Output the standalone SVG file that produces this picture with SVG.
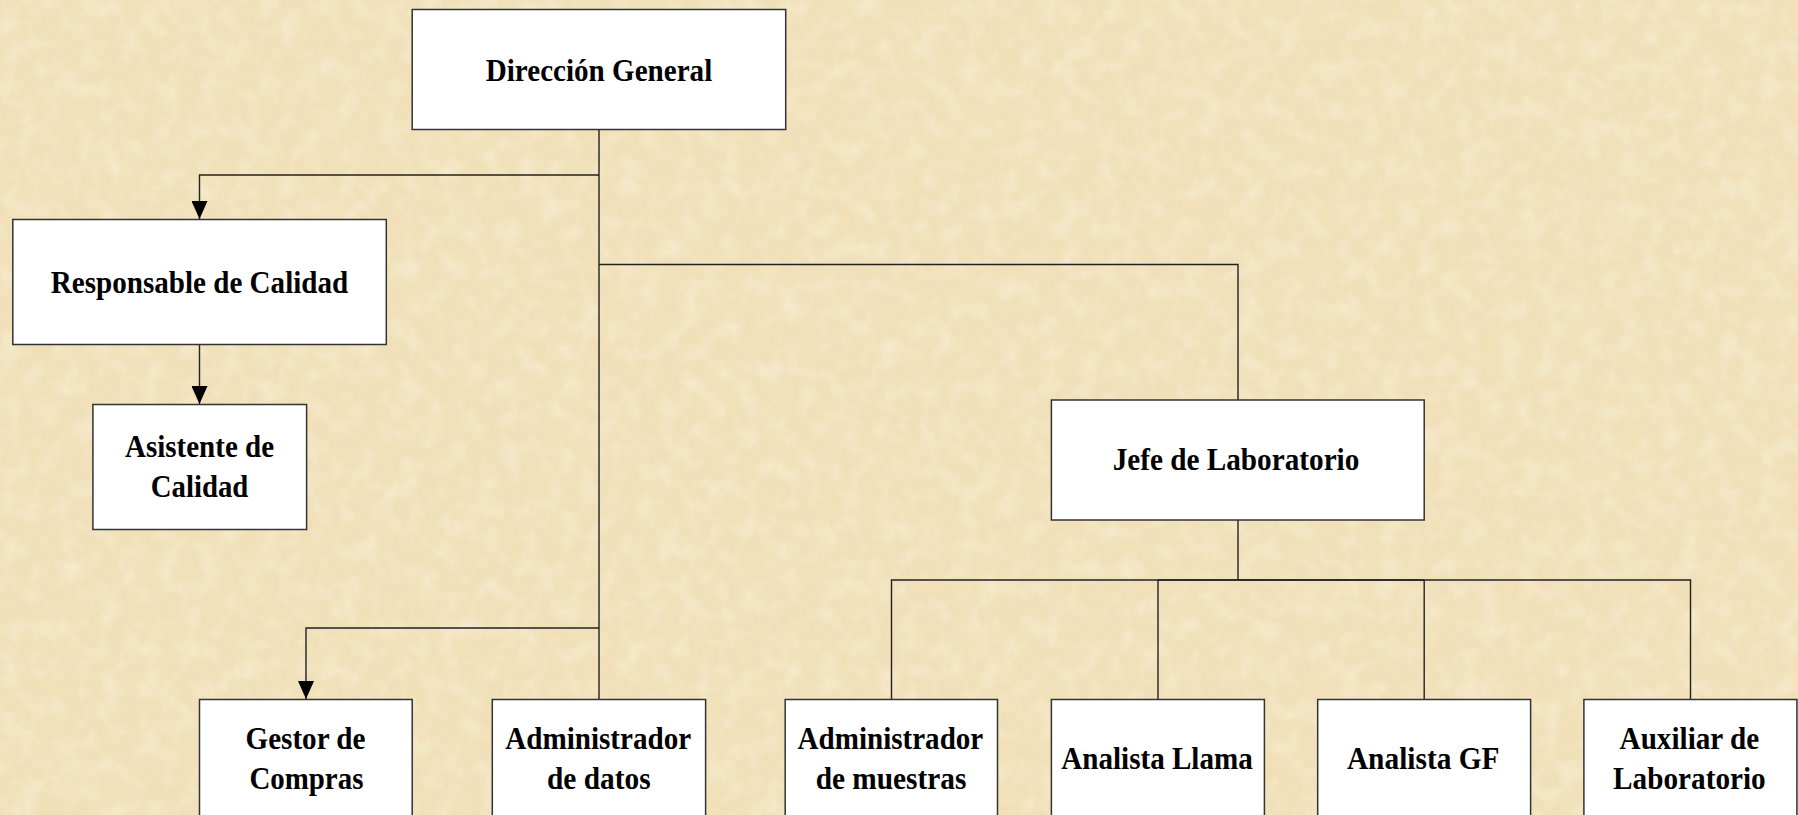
<svg xmlns="http://www.w3.org/2000/svg" width="1798" height="815" viewBox="0 0 1798 815">
<defs>
<style>
.box{fill:#fff;stroke:#333;stroke-width:1.5}
.t{font-family:"Liberation Serif","Times New Roman",serif;font-weight:bold;font-size:32px;fill:#000;text-anchor:middle}
.c{fill:none;stroke:#222;stroke-width:1.4}
</style>
<marker id="arr" markerWidth="18" markerHeight="16" refX="18" refY="8" orient="auto" markerUnits="userSpaceOnUse" viewBox="0 0 18 16" preserveAspectRatio="none">
<path d="M0,0 L18,8 L0,16 Z" fill="#000"/>
</marker>
<filter id="tex" x="0" y="0" width="100%" height="100%">
<feTurbulence type="fractalNoise" baseFrequency="0.02 0.03" numOctaves="4" seed="7" result="n"/>
<feColorMatrix in="n" type="matrix" values="0 0 0 0 0.86  0 0 0 0 0.72  0 0 0 0 0.45  0 0 0 2.0 -0.8" result="c"/>
<feComposite in="c" in2="SourceGraphic" operator="in"/>
</filter>
<filter id="tex2" x="0" y="0" width="100%" height="100%">
<feTurbulence type="fractalNoise" baseFrequency="0.05" numOctaves="3" seed="3" result="n"/>
<feColorMatrix in="n" type="matrix" values="0 0 0 0 1  0 0 0 0 0.98  0 0 0 0 0.9  0 0 0 2.0 -0.85" result="c"/>
<feComposite in="c" in2="SourceGraphic" operator="in"/>
</filter>
</defs>
<rect x="0" y="0" width="1798" height="815" fill="#F1E1BA"/>
<rect x="0" y="0" width="1798" height="815" fill="#fff" filter="url(#tex)" opacity="0.5"/>
<rect x="0" y="0" width="1798" height="815" fill="#fff" filter="url(#tex2)" opacity="0.35"/>
<g id="connectors">
<path class="c" d="M599,130 V699"/>
<path class="c" d="M599,175 H199.5 V219" marker-end="url(#arr)"/>
<path class="c" d="M199.5,344.3 V404" marker-end="url(#arr)"/>
<path class="c" d="M599,628 H306 V699" marker-end="url(#arr)"/>
<path class="c" d="M599,264.5 H1238 V400"/>
<path class="c" d="M1238,520 V580"/>
<path class="c" d="M891.5,700 V580 H1690.5 V700"/>
<path class="c" d="M1158,580 V700"/>
<path class="c" d="M1424.2,580 V700"/>
<path class="c" d="M1158,580 H1424.2" stroke-width="2.2"/>
</g>
<g id="direccion-general">
<rect class="box" x="412.2" y="9.5" width="373.5" height="120"/>
<text class="t" x="599" y="80.5" textLength="226.5" lengthAdjust="spacingAndGlyphs">Dirección General</text>
</g>
<g id="responsable-calidad">
<rect class="box" x="12.8" y="219.5" width="373.5" height="125"/>
<text class="t" x="199.5" y="292.5" textLength="297.5" lengthAdjust="spacingAndGlyphs">Responsable de Calidad</text>
</g>
<g id="asistente-calidad">
<rect class="box" x="92.9" y="404.5" width="213.7" height="125"/>
<text class="t" x="199.5" y="456.7" textLength="149" lengthAdjust="spacingAndGlyphs">Asistente de</text>
<text class="t" x="199.5" y="496.7" textLength="97.5" lengthAdjust="spacingAndGlyphs">Calidad</text>
</g>
<g id="jefe-laboratorio">
<rect class="box" x="1051.4" y="400" width="372.8" height="120"/>
<text class="t" x="1236" y="469.5" textLength="246.7" lengthAdjust="spacingAndGlyphs">Jefe de Laboratorio</text>
</g>
<g id="gestor-compras">
<rect class="box" x="199.5" y="699.5" width="212.7" height="140"/>
<text class="t" x="305.5" y="749.3" textLength="120" lengthAdjust="spacingAndGlyphs">Gestor de</text>
<text class="t" x="306.4" y="789.3" textLength="114" lengthAdjust="spacingAndGlyphs">Compras</text>
</g>
<g id="administrador-datos">
<rect class="box" x="492.3" y="699.5" width="213.3" height="140"/>
<text class="t" x="598.2" y="749.3" textLength="186" lengthAdjust="spacingAndGlyphs">Administrador</text>
<text class="t" x="598.8" y="789.3" textLength="103.5" lengthAdjust="spacingAndGlyphs">de datos</text>
</g>
<g id="administrador-muestras">
<rect class="box" x="785.2" y="699.5" width="212.3" height="140"/>
<text class="t" x="890.4" y="749.3" textLength="185.7" lengthAdjust="spacingAndGlyphs">Administrador</text>
<text class="t" x="891" y="789.3" textLength="150.6" lengthAdjust="spacingAndGlyphs">de muestras</text>
</g>
<g id="analista-llama">
<rect class="box" x="1051.4" y="699.5" width="213" height="140"/>
<text class="t" x="1157" y="769.3" textLength="191.5" lengthAdjust="spacingAndGlyphs">Analista Llama</text>
</g>
<g id="analista-gf">
<rect class="box" x="1317.7" y="699.5" width="212.9" height="140"/>
<text class="t" x="1423.2" y="769.3" textLength="152.6" lengthAdjust="spacingAndGlyphs">Analista GF</text>
</g>
<g id="auxiliar-laboratorio">
<rect class="box" x="1583.9" y="699.5" width="213" height="140"/>
<text class="t" x="1689.4" y="749.3" textLength="139.6" lengthAdjust="spacingAndGlyphs">Auxiliar de</text>
<text class="t" x="1689.4" y="789.3" textLength="152.6" lengthAdjust="spacingAndGlyphs">Laboratorio</text>
</g>
</svg>
